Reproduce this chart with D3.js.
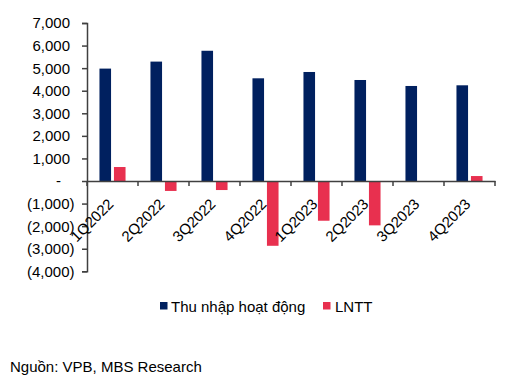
<!DOCTYPE html>
<html><head><meta charset="utf-8">
<script src="https://cdn.jsdelivr.net/npm/d3@7/dist/d3.min.js"></script>
<style>body{margin:0;background:#fff}svg{display:block}text{font-family:"Liberation Sans",Arial,sans-serif;fill:#000}</style>
</head><body>
<script>
const categories = ["1Q2022","2Q2022","3Q2022","4Q2022","1Q2023","2Q2023","3Q2023","4Q2023"];
const thuNhap = [4980, 5290, 5770, 4550, 4830, 4475, 4210, 4240];
const lntt = [620, -440, -400, -2870, -1760, -1965, -15, 220];
const seriesNames = ["Thu nhập hoạt động", "LNTT"];
const colors = ["#00205F", "#E8304F"];
const yTicks = [7000,6000,5000,4000,3000,2000,1000,0,-1000,-2000,-3000,-4000];

const W = 515, H = 382;
const FS = 15;
const svg = d3.select("body").append("svg").attr("width", W).attr("height", H);

const x0 = d3.scaleBand().domain(categories).range([87, 495]).padding(0);
const x1 = d3.scaleBand().domain(seriesNames).range([0, x0.bandwidth()]).paddingInner(0.2).paddingOuter(0.86);
const y = d3.scaleLinear().domain([-4000, 7000]).range([271.3, 23]);

const data = categories.map((c, i) => ({cat: c, vals: [thuNhap[i], lntt[i]]}));

// bars
const g = svg.append("g");
data.forEach(d => {
  d.vals.forEach((v, j) => {
    g.append("rect")
      .attr("x", x0(d.cat) + x1(seriesNames[j]))
      .attr("width", x1.bandwidth())
      .attr("y", y(Math.max(0, v)))
      .attr("height", Math.abs(y(v) - y(0)))
      .attr("fill", colors[j]);
  });
});

const axisColor = "#404040";
// y axis
const fmt = v => v === 0 ? "-" : (v < 0 ? "(" + d3.format(",")(-v) + ")" : d3.format(",")(v));
const yAxis = svg.append("g").attr("transform", "translate(87,0)")
  .call(d3.axisLeft(y).tickValues(yTicks).tickSize(5).tickPadding(0).tickFormat(""));
yAxis.select(".domain").attr("stroke", axisColor).attr("stroke-width", 1.5);
yAxis.selectAll(".tick line").attr("stroke", axisColor).attr("stroke-width", 1.5);
yTicks.forEach(v => {
  svg.append("text")
    .attr("x", v === 0 ? 61 : (v < 0 ? 74.5 : 70))
    .attr("y", y(v))
    .attr("dy", "0.36em")
    .attr("text-anchor", "end")
    .attr("font-size", FS)
    .text(fmt(v));
});

// x axis
const xAxis = svg.append("g").attr("transform", `translate(0,${y(0)})`)
  .call(d3.axisBottom(x0).tickSize(0).tickFormat(""));
xAxis.select(".domain").attr("stroke", axisColor).attr("stroke-width", 1.5);
const bounds = categories.map(c => x0(c)).concat([x0.range()[1]]);
bounds.forEach(bx => {
  svg.append("line").attr("x1", bx).attr("x2", bx).attr("y1", y(0)).attr("y2", y(0) + 5)
    .attr("stroke", axisColor).attr("stroke-width", 1.5);
});
categories.forEach(c => {
  const cx = x0(c) + x0.bandwidth() / 2;
  svg.append("text")
    .attr("transform", `translate(${cx + 2},${y(0) + 24}) rotate(-45)`)
    .attr("text-anchor", "end")
    .attr("font-size", FS)
    .text(c);
});

// legend
const legendItems = [{x: 160, tx: 171}, {x: 323, tx: 335}];
seriesNames.forEach((s, j) => {
  svg.append("rect").attr("x", legendItems[j].x).attr("y", 302).attr("width", 7.5).attr("height", 7.5).attr("fill", colors[j]);
  svg.append("text").attr("x", legendItems[j].tx).attr("y", 311.5).attr("font-size", FS).text(s);
});

// source
svg.append("text").attr("x", 10).attr("y", 372).attr("font-size", FS).text("Nguồn: VPB, MBS Research");
</script>
</body></html>
